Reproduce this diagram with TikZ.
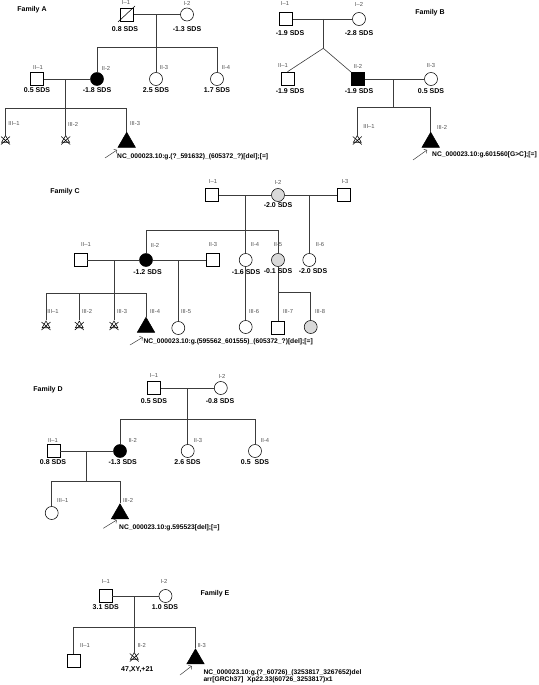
\documentclass[tikz,border=0pt]{standalone}
\usepackage{fontspec}
\setmainfont{Liberation Sans}
\usetikzlibrary{arrows.meta, shapes.geometric}
\definecolor{tagg}{RGB}{80,80,80}
\definecolor{carrierg}{RGB}{217,217,217}
\definecolor{linea}{RGB}{60,60,60}
\newcommand{\lossx}[1]{\draw[symline] ([shift={(-4.5,-3.5)}]#1.center) -- ([shift={(4.5,4.5)}]#1.center) ([shift={(-4.5,4.5)}]#1.center) -- ([shift={(4.5,-3.5)}]#1.center);}

\begin{document}
\begin{tikzpicture}[x=1pt, y=-1pt,
        symline/.style={draw=black, line width=0.55pt},
        male/.style={rectangle, symline, fill=white, minimum size=13pt, inner sep=0pt},
        female/.style={circle, symline, fill=white, minimum size=13pt, inner sep=0pt},
        affected/.style={fill=black},
        carrier/.style={fill=carrierg},
        proband/.style={regular polygon, regular polygon sides=3, symline, fill=black, minimum size=20pt, inner sep=0pt, anchor=north},
        loss/.style={regular polygon, regular polygon sides=3, symline, minimum size=9pt, inner sep=0pt},
        link/.style={draw=linea, line width=0.6pt},
        probarrow/.style={-{To[length=2.5pt]}, draw=linea, line width=0.5pt},
        famname/.style={font=\bfseries\fontsize{7}{8}\selectfont, inner sep=0pt},
        sds/.style={font=\bfseries\fontsize{7}{8}\selectfont, inner sep=0pt},
        tag/.style={font=\fontsize{5.8}{6}\selectfont, text=tagg, inner sep=0pt},
        variant/.style={font=\bfseries\fontsize{6.7}{6}\selectfont, inner sep=0pt, anchor=west, align=left}
    ]
        \useasboundingbox (0,0) rectangle (538,685);

        % Family A
        \node[famname] at (32,10) {Family A};
        \node[male] (a11) at (127,14.5) {};
        \node[female] (a12) at (187,14.5) {};
        \draw[symline] ([shift={(-9,7.5)}]a11.center) -- ([shift={(8,-8.5)}]a11.center);
        \node[tag] at (126,3) {I–1};
        \node[tag] at (187,3) {I-2};
        \node[sds] at (125,29) {0.8 SDS};
        \node[sds] at (187,29) {-1.3 SDS};

        \node[male] (a21) at (37,79) {};
        \node[female, affected] (a22) at (97,79) {};
        \node[female] (a23) at (156,79) {};
        \node[female] (a24) at (217,79) {};
        \node[tag] at (38,68) {II–1};
        \node[tag] at (106,68) {II-2};
        \node[tag] at (164,68) {II-3};
        \node[tag] at (226,68) {II-4};
        \node[sds] at (37,90) {0.5 SDS};
        \node[sds] at (97,90) {-1.8 SDS};
        \node[sds] at (156,90) {2.5 SDS};
        \node[sds] at (217,90) {1.7 SDS};

        \node[loss] (a31) at (5.5,140) {};
        \node[loss] (a32) at (65.7,140) {};
        \node[proband] (a33) at (126.7,131.7) {};
        \lossx{a31}
        \lossx{a32}
        \node[tag] at (14,124) {III–1};
        \node[tag] at (73,124) {III-2};
        \node[tag] at (135,124) {III-3};
        \coordinate (a33p) at (105,158);
        \coordinate (a33q) at (117,150);
        \node[variant] (a33v) at (117,156.5) {NC\_000023.10:g.(?\_591632)\_(605372\_?)[del];[=]};

        \coordinate (a1m) at (156,14.5);
        \coordinate (a1l) at (97,47.7);
        \coordinate (a1r) at (217,47.7);
        \coordinate (a2m) at (65.7,79);
        \coordinate (a2l) at (5.5,108.3);
        \coordinate (a2r) at (126.7,108.3);
        \draw[link] (a11) -- (a12);
        \draw[link] (a1m) -- (a23);
        \draw[link] (a22) -- (a1l) -- (a1r) -- (a24);
        \draw[link] (a21) -- (a22);
        \draw[link] (a2m) -- (a32);
        \draw[link] (a31) -- (a2l) -- (a2r) -- (a33);
        \draw[probarrow] (a33p) -- (a33q);

        % Family B
        \node[famname] at (430,13) {Family B};
        \node[male] (b11) at (286,19) {};
        \node[female] (b12) at (359,19) {};
        \node[tag] at (285,4) {I–1};
        \node[tag] at (359,4) {I–2};
        \node[sds] at (290,33) {-1.9 SDS};
        \node[sds] at (359,33) {-2.8 SDS};

        \node[male] (b21) at (287.5,78.5) {};
        \node[male, affected] (b22) at (358,79) {};
        \node[female] (b23) at (431,79) {};
        \node[tag] at (283,66) {II–1};
        \node[tag] at (358,66) {II-2};
        \node[tag] at (431,66) {II-3};
        \node[sds] at (290,91) {-1.9 SDS};
        \node[sds] at (359,91) {-1.9 SDS};
        \node[sds] at (431,91) {0.5 SDS};

        \node[loss] (b31) at (357.3,140) {};
        \node[proband] (b32) at (430.7,131.7) {};
        \lossx{b31}
        \node[tag] at (369,127) {III–1};
        \node[tag] at (442,127) {III-2};
        \coordinate (b32p) at (413,160);
        \coordinate (b32q) at (427,150);
        \node[variant] (b32v) at (432,155) {NC\_000023.10:g.601560[G>C];[=]};

        \coordinate (b1m) at (323.3,19);
        \coordinate (b1t) at (323.3,48.3);
        \coordinate (b2m) at (393.3,79);
        \coordinate (b2s) at (393.3,107.3);
        \coordinate (b2l) at (357.3,107.3);
        \coordinate (b2r) at (430.7,107.3);
        \draw[link] (b11) -- (b12);
        \draw[link] (b1m) -- (b1t);
        \draw[link] (b21.north) -- (b1t) -- (b22.north west);
        \draw[link] (b22) -- (b23);
        \draw[link] (b2m) -- (b2s);
        \draw[link] (b31) -- (b2l) -- (b2r) -- (b32);
        \draw[probarrow] (b32p) -- (b32q);

        % Family C
        \node[famname] at (65,192) {Family C};
        \node[male] (c11) at (212,195) {};
        \node[female, carrier] (c12) at (278,195) {};
        \node[male] (c13) at (343.5,195) {};
        \node[tag] at (213,182) {I–1};
        \node[tag] at (278,182) {I-2};
        \node[tag] at (345,182) {I-3};
        \node[sds] at (278,205) {-2.0 SDS};

        \node[male] (c21) at (80.7,260) {};
        \node[female, affected] (c22) at (146,260) {};
        \node[male] (c23) at (212.3,260) {};
        \node[female] (c24) at (245.7,260) {};
        \node[female, carrier] (c25) at (278,260) {};
        \node[female] (c26) at (309.3,260) {};
        \node[tag] at (86,245) {II–1};
        \node[tag] at (155,245) {II-2};
        \node[tag] at (213,245) {II-3};
        \node[tag] at (255,245) {II-4};
        \node[tag] at (278,245) {II-5};
        \node[tag] at (320,245) {II-6};

        \node[loss] (c31) at (46,325.5) {};
        \node[loss] (c32) at (79.3,325.5) {};
        \node[loss] (c33) at (114,325.5) {};
        \node[proband] (c34) at (146,316.7) {};
        \node[female] (c35) at (178.3,328) {};
        \node[female] (c36) at (245.7,327) {};
        \node[male] (c37) at (278,327.8) {};
        \node[female, carrier] (c38) at (310.7,327) {};
        \lossx{c31}
        \lossx{c32}
        \lossx{c33}
        \node[tag] at (53,311.7) {III–1};
        \node[tag] at (87,311.7) {III-2};
        \node[tag] at (122,311.7) {III-3};
        \node[tag] at (155,311.7) {III-4};
        \node[tag] at (186,311.7) {III-5};
        \node[tag] at (254,311.7) {III-6};
        \node[tag] at (288,311.7) {III-7};
        \node[tag] at (320,311.7) {III-8};
        \coordinate (c34p) at (130,345);
        \coordinate (c34q) at (142.7,337.3);
        \node[variant] (c34v) at (143.3,341.5) {NC\_000023.10:g.(595562\_601555)\_(605372\_?)[del];[=]};

        \coordinate (c1m) at (245.7,195);
        \coordinate (c1l) at (146,230);
        \coordinate (c1r) at (278,230);
        \coordinate (c2m) at (309.3,195);
        \coordinate (c3m) at (114,260);
        \coordinate (c3l) at (46,293.3);
        \coordinate (c3r) at (146,293.3);
        \coordinate (c4m) at (178.3,260);
        \coordinate (c5l) at (278,292.7);
        \coordinate (c5r) at (310.7,292.7);
        \draw[link] (c11) -- (c12);
        \draw[link] (c12) -- (c13);
        \draw[link] (c1m) -- (c24);
        \draw[link] (c22) -- (c1l) -- (c1r) -- (c25);
        \draw[link] (c2m) -- (c26);
        \draw[link] (c21) -- (c22);
        \draw[link] (c22) -- (c23);
        \draw[link] (c3m) -- (c33);
        \draw[link] (c31) -- (c3l) -- (c3r) -- (c34);
        \draw[link] (c32) -- (c32 |- c3l);
        \draw[link] (c4m) -- (c35);
        \draw[link] (c24) -- (c36);
        \draw[link] (c25) -- (c5l) -- (c5r) -- (c38);
        \draw[link] (c5l) -- (c37);
        \draw[probarrow] (c34p) -- (c34q);

        \node[sds] at (147.5,272) {-1.2 SDS};
        \node[sds] at (246,272) {-1.6 SDS};
        \node[sds] at (278,271) {-0.1 SDS};
        \node[sds] at (313,271) {-2.0 SDS};

        % Family D
        \node[famname] at (48,390) {Family D};
        \node[male] (d11) at (154,388) {};
        \node[female] (d12) at (220.8,388) {};
        \node[tag] at (154,376) {I–1};
        \node[tag] at (222,376) {I-2};
        \node[sds] at (154,400.7) {0.5 SDS};
        \node[sds] at (220,400.7) {-0.8 SDS};

        \node[male] (d21) at (53.3,451) {};
        \node[female, affected] (d22) at (120,451) {};
        \node[female] (d23) at (187.7,451) {};
        \node[female] (d24) at (255,451) {};
        \node[tag] at (53,440) {II–1};
        \node[tag] at (132.7,440.7) {II-2};
        \node[tag] at (198,440) {II-3};
        \node[tag] at (265,440) {II-4};
        \node[sds] at (53,461.7) {0.8 SDS};
        \node[sds] at (122.7,461.7) {-1.3 SDS};
        \node[sds] at (187.5,461.7) {2.6 SDS};
        \node[sds] at (255,461.7) {0.5\ \ SDS};

        \node[female] (d31) at (51.7,513) {};
        \node[proband] (d32) at (120,503.3) {};
        \node[tag] at (62.7,500.7) {III–1};
        \node[tag] at (128,500.7) {III-2};
        \coordinate (d32p) at (103.3,528.3);
        \coordinate (d32q) at (116.7,520);
        \node[variant] (d32v) at (119,527.7) {NC\_000023.10:g.595523[del];[=]};

        \coordinate (d1m) at (187.7,388);
        \coordinate (d1l) at (120,419);
        \coordinate (d1r) at (255,419);
        \coordinate (d2m) at (86,451);
        \coordinate (d2s) at (86,481.7);
        \coordinate (d2l) at (51.7,481.7);
        \coordinate (d2r) at (120,481.7);
        \draw[link] (d11) -- (d12);
        \draw[link] (d1m) -- (d23);
        \draw[link] (d22) -- (d1l) -- (d1r) -- (d24);
        \draw[link] (d21) -- (d22);
        \draw[link] (d2m) -- (d2s);
        \draw[link] (d31) -- (d2l) -- (d2r) -- (d32);
        \draw[probarrow] (d32p) -- (d32q);

        % Family E
        \node[famname] at (215,593.3) {Family E};
        \node[male] (e11) at (105.5,596) {};
        \node[female] (e12) at (165.5,596) {};
        \node[tag] at (105.7,581.7) {I–1};
        \node[tag] at (164,581.7) {I-2};
        \node[sds] at (105.7,606.7) {3.1 SDS};
        \node[sds] at (165,606.7) {1.0 SDS};

        \node[male] (e21) at (73.7,660.5) {};
        \node[loss] (e22) at (134.3,657) {};
        \node[proband] (e23) at (195.5,648.3) {};
        \lossx{e22}
        \node[tag] at (85,645) {II–1};
        \node[tag] at (141.7,645) {II-2};
        \node[tag] at (201.7,645) {II-3};
        \node[sds] at (137.3,669.3) {47,XY,+21};
        \coordinate (e23p) at (180,675);
        \coordinate (e23q) at (191.7,666);
        \node[variant] (e23v) at (203.3,676.2) {NC\_000023.10:g.(?\_60726)\_(3253817\_3267652)del\\arr[GRCh37]\ \ Xp22.33(60726\_3253817)x1};

        \coordinate (e1m) at (134.3,596);
        \coordinate (e1l) at (73.7,627.7);
        \coordinate (e1r) at (195.5,627.7);
        \draw[link] (e11) -- (e12);
        \draw[link] (e1m) -- (e22);
        \draw[link] (e21) -- (e1l) -- (e1r) -- (e23);
        \draw[probarrow] (e23p) -- (e23q);
    \end{tikzpicture}
\end{document}
